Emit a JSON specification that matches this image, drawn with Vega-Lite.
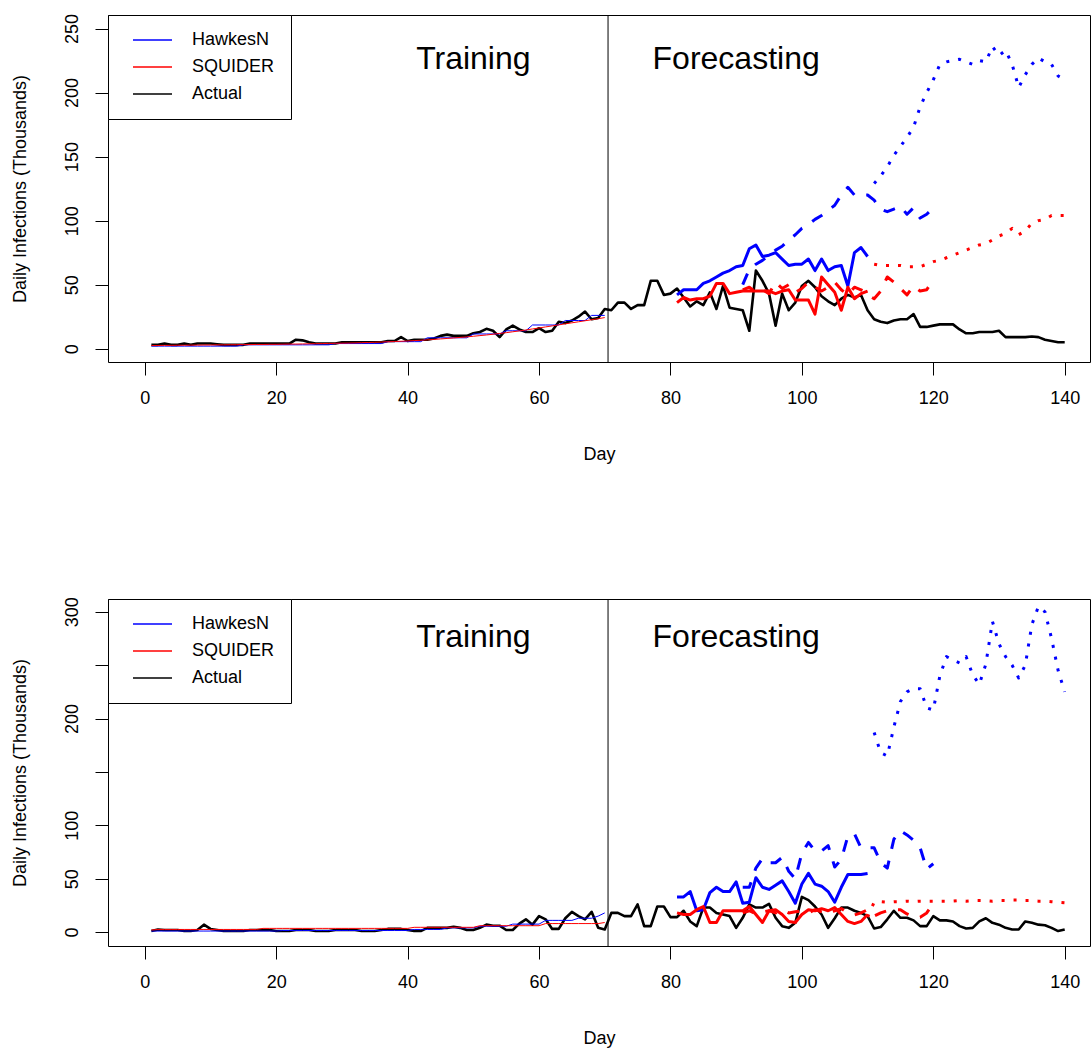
{
"$schema": "https://vega.github.io/schema/vega-lite/v6.json",
"padding": {"left": 10, "top": 13, "right": 0, "bottom": 0},
"spacing": 132,
"resolve": {"scale": {"color": "independent"}, "legend": {"color": "independent"}},
"config": {
  "font": "Liberation Sans",
  "view": {"stroke": "#000000", "strokeWidth": 1},
  "axis": {"domain": false, "grid": false, "tickColor": "#000000", "tickSize": 13, "tickWidth": 1, "labelFontSize": 18, "labelColor": "#000000", "labelFont": "Liberation Sans", "titleFont": "Liberation Sans", "titleFontSize": 18, "titleFontWeight": "normal", "titleColor": "#000000", "labelPadding": 14, "labelFlush": false, "labelOverlap": false},
  "axisX": {"titlePadding": 38},
  "axisY": {"labelAngle": 270, "labelAlign": "center", "labelBaseline": "bottom", "titlePadding": 34},
  "legend": {"orient": "top-left", "offset": 0, "padding": 16, "strokeColor": "#000000", "fillColor": "#ffffff", "symbolType": "M0,0H6", "symbolSize": 169, "symbolStrokeWidth": 1.5, "labelFontSize": 18, "labelFont": "Liberation Sans", "labelColor": "#000000", "labelOffset": 50, "rowPadding": 9, "cornerRadius": 0},
  "line": {"strokeJoin": "round"}
},
"datasets": {
"T_act": [{"day":1,"value":3},{"day":2,"value":3},{"day":3,"value":4},{"day":4,"value":3},{"day":5,"value":3},{"day":6,"value":4},{"day":7,"value":3},{"day":8,"value":4},{"day":9,"value":4},{"day":10,"value":4},{"day":11,"value":3.5},{"day":12,"value":3},{"day":13,"value":3},{"day":14,"value":3},{"day":15,"value":3},{"day":16,"value":4},{"day":17,"value":4},{"day":18,"value":4},{"day":19,"value":4},{"day":20,"value":4},{"day":21,"value":4},{"day":22,"value":4},{"day":23,"value":7},{"day":24,"value":6.5},{"day":25,"value":5},{"day":26,"value":4},{"day":27,"value":4},{"day":28,"value":4},{"day":29,"value":4},{"day":30,"value":5},{"day":31,"value":5},{"day":32,"value":5},{"day":33,"value":5},{"day":34,"value":5},{"day":35,"value":5},{"day":36,"value":5},{"day":37,"value":6},{"day":38,"value":6},{"day":39,"value":9},{"day":40,"value":6},{"day":41,"value":7},{"day":42,"value":7},{"day":43,"value":7},{"day":44,"value":8},{"day":45,"value":10},{"day":46,"value":11},{"day":47,"value":10},{"day":48,"value":10},{"day":49,"value":10},{"day":50,"value":12},{"day":51,"value":13},{"day":52,"value":15.5},{"day":53,"value":14},{"day":54,"value":9},{"day":55,"value":15},{"day":56,"value":18},{"day":57,"value":15},{"day":58,"value":13},{"day":59,"value":13},{"day":60,"value":16},{"day":61,"value":13},{"day":62,"value":14},{"day":63,"value":21},{"day":64,"value":20},{"day":65,"value":22},{"day":66,"value":25},{"day":67,"value":29},{"day":68,"value":23},{"day":69,"value":24},{"day":70,"value":31},{"day":71,"value":30},{"day":72,"value":36},{"day":73,"value":36},{"day":74,"value":31},{"day":75,"value":34},{"day":76,"value":34},{"day":77,"value":53},{"day":78,"value":53},{"day":79,"value":42},{"day":80,"value":43},{"day":81,"value":47},{"day":82,"value":40},{"day":83,"value":33},{"day":84,"value":37},{"day":85,"value":34},{"day":86,"value":44},{"day":87,"value":31},{"day":88,"value":49},{"day":89,"value":32},{"day":90,"value":31},{"day":91,"value":30},{"day":92,"value":14},{"day":93,"value":61},{"day":94,"value":53},{"day":95,"value":43},{"day":96,"value":18},{"day":97,"value":43},{"day":98,"value":30},{"day":99,"value":36},{"day":100,"value":49},{"day":101,"value":53},{"day":102,"value":48},{"day":103,"value":41},{"day":104,"value":37},{"day":105,"value":34},{"day":106,"value":39},{"day":107,"value":42},{"day":108,"value":40},{"day":109,"value":42},{"day":110,"value":30},{"day":111,"value":23},{"day":112,"value":21},{"day":113,"value":20},{"day":114,"value":22},{"day":115,"value":23},{"day":116,"value":23},{"day":117,"value":27},{"day":118,"value":17},{"day":119,"value":17},{"day":120,"value":18},{"day":121,"value":19},{"day":122,"value":19},{"day":123,"value":19},{"day":124,"value":15},{"day":125,"value":12},{"day":126,"value":12},{"day":127,"value":13},{"day":128,"value":13},{"day":129,"value":13},{"day":130,"value":14},{"day":131,"value":9},{"day":132,"value":9},{"day":133,"value":9},{"day":134,"value":9},{"day":135,"value":9.5},{"day":136,"value":9},{"day":137,"value":7},{"day":138,"value":6},{"day":139,"value":5},{"day":140,"value":5}],
"T_hfit": [{"day":1,"value":2},{"day":2,"value":2},{"day":3,"value":2},{"day":4,"value":2},{"day":5,"value":2},{"day":6,"value":2},{"day":7,"value":2},{"day":8,"value":2},{"day":9,"value":2},{"day":10,"value":2},{"day":11,"value":2},{"day":12,"value":2},{"day":13,"value":2},{"day":14,"value":2},{"day":15,"value":3},{"day":16,"value":3},{"day":17,"value":3},{"day":18,"value":3},{"day":19,"value":3},{"day":20,"value":3},{"day":21,"value":3},{"day":22,"value":3},{"day":23,"value":3},{"day":24,"value":3},{"day":25,"value":3},{"day":26,"value":3},{"day":27,"value":3},{"day":28,"value":3},{"day":29,"value":4},{"day":30,"value":4},{"day":31,"value":4},{"day":32,"value":4},{"day":33,"value":4},{"day":34,"value":4},{"day":35,"value":4},{"day":36,"value":4},{"day":37,"value":5.5},{"day":38,"value":5.5},{"day":39,"value":5.5},{"day":40,"value":5.5},{"day":41,"value":5.5},{"day":42,"value":5.5},{"day":43,"value":8.5},{"day":44,"value":8.5},{"day":45,"value":8.5},{"day":46,"value":8.5},{"day":47,"value":8.5},{"day":48,"value":8.5},{"day":49,"value":8.5},{"day":50,"value":11.5},{"day":51,"value":11.5},{"day":52,"value":11.5},{"day":53,"value":11.5},{"day":54,"value":11.5},{"day":55,"value":14},{"day":56,"value":14},{"day":57,"value":14},{"day":58,"value":14},{"day":59,"value":18.5},{"day":60,"value":18.5},{"day":61,"value":18.5},{"day":62,"value":18.5},{"day":63,"value":18.5},{"day":64,"value":22},{"day":65,"value":22},{"day":66,"value":22},{"day":67,"value":22},{"day":68,"value":26},{"day":69,"value":26},{"day":70,"value":26}],
"T_sfit": [{"day":1,"value":2.5},{"day":2,"value":2.5},{"day":3,"value":2.6},{"day":4,"value":2.6},{"day":5,"value":2.7},{"day":6,"value":2.7},{"day":7,"value":2.8},{"day":8,"value":2.8},{"day":9,"value":2.9},{"day":10,"value":2.9},{"day":11,"value":3},{"day":12,"value":3},{"day":13,"value":3.1},{"day":14,"value":3.1},{"day":15,"value":3.2},{"day":16,"value":3.2},{"day":17,"value":3.3},{"day":18,"value":3.3},{"day":19,"value":3.4},{"day":20,"value":3.4},{"day":21,"value":3.5},{"day":22,"value":3.6},{"day":23,"value":3.6},{"day":24,"value":3.7},{"day":25,"value":3.8},{"day":26,"value":3.9},{"day":27,"value":4},{"day":28,"value":4.1},{"day":29,"value":4.2},{"day":30,"value":4.3},{"day":31,"value":4.4},{"day":32,"value":4.5},{"day":33,"value":4.7},{"day":34,"value":4.8},{"day":35,"value":5},{"day":36,"value":5.2},{"day":37,"value":5.4},{"day":38,"value":5.6},{"day":39,"value":5.8},{"day":40,"value":6},{"day":41,"value":6.3},{"day":42,"value":6.6},{"day":43,"value":6.9},{"day":44,"value":7.2},{"day":45,"value":7.6},{"day":46,"value":8},{"day":47,"value":8.4},{"day":48,"value":8.8},{"day":49,"value":9.2},{"day":50,"value":9.7},{"day":51,"value":10.2},{"day":52,"value":10.7},{"day":53,"value":11.3},{"day":54,"value":11.9},{"day":55,"value":12.5},{"day":56,"value":13.2},{"day":57,"value":13.9},{"day":58,"value":14.6},{"day":59,"value":15.4},{"day":60,"value":16.2},{"day":61,"value":17},{"day":62,"value":17.8},{"day":63,"value":18.6},{"day":64,"value":19.4},{"day":65,"value":20.2},{"day":66,"value":21},{"day":67,"value":21.8},{"day":68,"value":22.6},{"day":69,"value":23.4},{"day":70,"value":24.3}],
"T_hsol": [{"day":81,"value":42},{"day":82,"value":46},{"day":83,"value":46},{"day":84,"value":46},{"day":85,"value":51},{"day":86,"value":53},{"day":87,"value":56},{"day":88,"value":59},{"day":89,"value":61},{"day":90,"value":64},{"day":91,"value":65},{"day":92,"value":78},{"day":93,"value":81},{"day":94,"value":72},{"day":95,"value":73},{"day":96,"value":75},{"day":97,"value":70},{"day":98,"value":65},{"day":99,"value":66},{"day":100,"value":66},{"day":101,"value":70},{"day":102,"value":61},{"day":103,"value":70},{"day":104,"value":61},{"day":105,"value":64},{"day":106,"value":65},{"day":107,"value":49},{"day":108,"value":75},{"day":109,"value":79},{"day":110,"value":72}],
"T_hdash": [{"day":91,"value":50},{"day":92,"value":62},{"day":93,"value":66},{"day":94,"value":69},{"day":95,"value":73},{"day":96,"value":77},{"day":97,"value":80},{"day":98,"value":85},{"day":99,"value":89},{"day":100,"value":94},{"day":101,"value":97},{"day":102,"value":101},{"day":103,"value":104},{"day":104,"value":108},{"day":105,"value":112},{"day":106,"value":120},{"day":107,"value":126},{"day":108,"value":120},{"day":109,"value":120},{"day":110,"value":120},{"day":111,"value":116},{"day":112,"value":109},{"day":113,"value":107},{"day":114,"value":109},{"day":115,"value":111},{"day":116,"value":105},{"day":117,"value":110},{"day":118,"value":102},{"day":119,"value":105},{"day":120,"value":110}],
"T_hdot": [{"day":111,"value":129},{"day":112,"value":135},{"day":113,"value":142},{"day":114,"value":151},{"day":115,"value":158},{"day":116,"value":165},{"day":117,"value":173},{"day":118,"value":189},{"day":119,"value":200},{"day":120,"value":210},{"day":121,"value":222},{"day":122,"value":224},{"day":123,"value":225},{"day":124,"value":226},{"day":125,"value":224},{"day":126,"value":222},{"day":127,"value":225},{"day":128,"value":224},{"day":129,"value":236},{"day":130,"value":229},{"day":131,"value":233},{"day":132,"value":222},{"day":133,"value":204},{"day":134,"value":214},{"day":135,"value":222},{"day":136,"value":227},{"day":137,"value":224},{"day":138,"value":222},{"day":139,"value":213},{"day":140,"value":210}],
"T_ssol": [{"day":81,"value":36},{"day":82,"value":40},{"day":83,"value":38},{"day":84,"value":39},{"day":85,"value":39},{"day":86,"value":41},{"day":87,"value":51},{"day":88,"value":51},{"day":89,"value":43},{"day":90,"value":44},{"day":91,"value":45},{"day":92,"value":45},{"day":93,"value":45},{"day":94,"value":45},{"day":95,"value":45},{"day":96,"value":43},{"day":97,"value":45},{"day":98,"value":46},{"day":99,"value":38},{"day":100,"value":38},{"day":101,"value":38},{"day":102,"value":27},{"day":103,"value":56},{"day":104,"value":50},{"day":105,"value":44},{"day":106,"value":30},{"day":107,"value":48},{"day":108,"value":39},{"day":109,"value":43},{"day":110,"value":45}],
"T_sdash": [{"day":91,"value":46},{"day":92,"value":48},{"day":93,"value":44},{"day":94,"value":46},{"day":95,"value":43},{"day":96,"value":52},{"day":97,"value":47},{"day":98,"value":50},{"day":99,"value":44},{"day":100,"value":47},{"day":101,"value":52},{"day":102,"value":48},{"day":103,"value":45},{"day":104,"value":48},{"day":105,"value":52},{"day":106,"value":46},{"day":107,"value":42},{"day":108,"value":48},{"day":109,"value":46},{"day":110,"value":42},{"day":111,"value":39},{"day":112,"value":45},{"day":113,"value":56},{"day":114,"value":52},{"day":115,"value":47},{"day":116,"value":42},{"day":117,"value":49},{"day":118,"value":45},{"day":119,"value":46},{"day":120,"value":54}],
"T_sdot": [{"day":111,"value":66},{"day":112,"value":65},{"day":113,"value":65},{"day":114,"value":65},{"day":115,"value":65},{"day":116,"value":64},{"day":117,"value":64},{"day":118,"value":64},{"day":119,"value":66},{"day":120,"value":68},{"day":121,"value":69},{"day":122,"value":71},{"day":123,"value":73},{"day":124,"value":75},{"day":125,"value":77},{"day":126,"value":79},{"day":127,"value":81},{"day":128,"value":82},{"day":129,"value":85},{"day":130,"value":88},{"day":131,"value":90},{"day":132,"value":94},{"day":133,"value":89},{"day":134,"value":92},{"day":135,"value":98},{"day":136,"value":100},{"day":137,"value":101},{"day":138,"value":104},{"day":139,"value":104},{"day":140,"value":104}],
"B_act": [{"day":1,"value":1},{"day":2,"value":2.5},{"day":3,"value":2},{"day":4,"value":2},{"day":5,"value":2},{"day":6,"value":1},{"day":7,"value":1},{"day":8,"value":2},{"day":9,"value":7},{"day":10,"value":3},{"day":11,"value":2},{"day":12,"value":1},{"day":13,"value":1},{"day":14,"value":1},{"day":15,"value":1},{"day":16,"value":2},{"day":17,"value":2},{"day":18,"value":2},{"day":19,"value":2},{"day":20,"value":1},{"day":21,"value":1},{"day":22,"value":1},{"day":23,"value":2},{"day":24,"value":2},{"day":25,"value":2},{"day":26,"value":1},{"day":27,"value":1},{"day":28,"value":1},{"day":29,"value":2},{"day":30,"value":2},{"day":31,"value":2},{"day":32,"value":2},{"day":33,"value":1},{"day":34,"value":1},{"day":35,"value":1},{"day":36,"value":2},{"day":37,"value":3},{"day":38,"value":3},{"day":39,"value":3},{"day":40,"value":2},{"day":41,"value":1},{"day":42,"value":1},{"day":43,"value":4},{"day":44,"value":4},{"day":45,"value":4},{"day":46,"value":4},{"day":47,"value":5},{"day":48,"value":4},{"day":49,"value":2},{"day":50,"value":2},{"day":51,"value":4},{"day":52,"value":7},{"day":53,"value":6},{"day":54,"value":6},{"day":55,"value":2},{"day":56,"value":2},{"day":57,"value":8},{"day":58,"value":12},{"day":59,"value":7},{"day":60,"value":15},{"day":61,"value":12},{"day":62,"value":3},{"day":63,"value":3},{"day":64,"value":13},{"day":65,"value":19},{"day":66,"value":15},{"day":67,"value":12},{"day":68,"value":19},{"day":69,"value":4},{"day":70,"value":2.5},{"day":71,"value":18},{"day":72,"value":18},{"day":73,"value":15},{"day":74,"value":15},{"day":75,"value":26},{"day":76,"value":5.6},{"day":77,"value":5.6},{"day":78,"value":24},{"day":79,"value":24},{"day":80,"value":14},{"day":81,"value":14},{"day":82,"value":20},{"day":83,"value":10},{"day":84,"value":5.6},{"day":85,"value":23},{"day":86,"value":23},{"day":87,"value":18},{"day":88,"value":16.5},{"day":89,"value":15},{"day":90,"value":4},{"day":91,"value":13.4},{"day":92,"value":26},{"day":93,"value":23},{"day":94,"value":23},{"day":95,"value":26.5},{"day":96,"value":13.4},{"day":97,"value":5.6},{"day":98,"value":4},{"day":99,"value":8.7},{"day":100,"value":33},{"day":101,"value":30},{"day":102,"value":24},{"day":103,"value":16.5},{"day":104,"value":4},{"day":105,"value":13},{"day":106,"value":23},{"day":107,"value":23},{"day":108,"value":20},{"day":109,"value":18},{"day":110,"value":15},{"day":111,"value":3.4},{"day":112,"value":4.7},{"day":113,"value":12},{"day":114,"value":20},{"day":115,"value":13.4},{"day":116,"value":13.4},{"day":117,"value":11},{"day":118,"value":5.6},{"day":119,"value":5.6},{"day":120,"value":15},{"day":121,"value":11},{"day":122,"value":11},{"day":123,"value":10},{"day":124,"value":5.6},{"day":125,"value":3.4},{"day":126,"value":4},{"day":127,"value":10},{"day":128,"value":13},{"day":129,"value":8.7},{"day":130,"value":7},{"day":131,"value":4},{"day":132,"value":2.5},{"day":133,"value":2.5},{"day":134,"value":10},{"day":135,"value":8.7},{"day":136,"value":7},{"day":137,"value":6.5},{"day":138,"value":4},{"day":139,"value":1},{"day":140,"value":2.5}],
"B_hfit": [{"day":1,"value":1},{"day":2,"value":1},{"day":3,"value":1},{"day":4,"value":1},{"day":5,"value":1},{"day":6,"value":1},{"day":7,"value":1},{"day":8,"value":1},{"day":9,"value":1},{"day":10,"value":1},{"day":11,"value":1},{"day":12,"value":1},{"day":13,"value":1},{"day":14,"value":1},{"day":15,"value":1},{"day":16,"value":1},{"day":17,"value":1},{"day":18,"value":1},{"day":19,"value":1},{"day":20,"value":1},{"day":21,"value":1.5},{"day":22,"value":1.5},{"day":23,"value":1.5},{"day":24,"value":1.5},{"day":25,"value":1.5},{"day":26,"value":1.5},{"day":27,"value":1.5},{"day":28,"value":1.5},{"day":29,"value":1.5},{"day":30,"value":1.5},{"day":31,"value":1.5},{"day":32,"value":1.5},{"day":33,"value":1.5},{"day":34,"value":1.5},{"day":35,"value":1.5},{"day":36,"value":1.5},{"day":37,"value":1.5},{"day":38,"value":1.5},{"day":39,"value":1.5},{"day":40,"value":1.5},{"day":41,"value":2.5},{"day":42,"value":2.5},{"day":43,"value":2.5},{"day":44,"value":2.5},{"day":45,"value":2.5},{"day":46,"value":4},{"day":47,"value":4},{"day":48,"value":4},{"day":49,"value":4},{"day":50,"value":4},{"day":51,"value":5.5},{"day":52,"value":5.5},{"day":53,"value":5.5},{"day":54,"value":5.5},{"day":55,"value":5.5},{"day":56,"value":7.5},{"day":57,"value":7.5},{"day":58,"value":7.5},{"day":59,"value":7.5},{"day":60,"value":7.5},{"day":61,"value":11},{"day":62,"value":11},{"day":63,"value":11},{"day":64,"value":11},{"day":65,"value":11},{"day":66,"value":13},{"day":67,"value":13},{"day":68,"value":13},{"day":69,"value":15},{"day":70,"value":18}],
"B_sfit": [{"day":1,"value":2},{"day":2,"value":2.5},{"day":3,"value":2.5},{"day":4,"value":2.5},{"day":5,"value":2.5},{"day":6,"value":2.5},{"day":7,"value":2.5},{"day":8,"value":2.5},{"day":9,"value":2.5},{"day":10,"value":2.5},{"day":11,"value":2.5},{"day":12,"value":2.5},{"day":13,"value":2.5},{"day":14,"value":2.5},{"day":15,"value":2.5},{"day":16,"value":2.5},{"day":17,"value":2.5},{"day":18,"value":3.5},{"day":19,"value":3.5},{"day":20,"value":3.5},{"day":21,"value":3.5},{"day":22,"value":3.5},{"day":23,"value":3.5},{"day":24,"value":3.5},{"day":25,"value":3.5},{"day":26,"value":3.5},{"day":27,"value":3.5},{"day":28,"value":3.5},{"day":29,"value":3.5},{"day":30,"value":3.5},{"day":31,"value":3.5},{"day":32,"value":3.5},{"day":33,"value":3.5},{"day":34,"value":3.5},{"day":35,"value":3.5},{"day":36,"value":3.5},{"day":37,"value":3.5},{"day":38,"value":3.5},{"day":39,"value":3.5},{"day":40,"value":3.5},{"day":41,"value":4.5},{"day":42,"value":4.5},{"day":43,"value":4.5},{"day":44,"value":4.5},{"day":45,"value":4.5},{"day":46,"value":4.5},{"day":47,"value":4.5},{"day":48,"value":4.5},{"day":49,"value":4.5},{"day":50,"value":4.5},{"day":51,"value":6},{"day":52,"value":6},{"day":53,"value":6},{"day":54,"value":6},{"day":55,"value":6},{"day":56,"value":6},{"day":57,"value":6},{"day":58,"value":6},{"day":59,"value":6},{"day":60,"value":6},{"day":61,"value":8},{"day":62,"value":8},{"day":63,"value":8},{"day":64,"value":8},{"day":65,"value":8},{"day":66,"value":8},{"day":67,"value":8},{"day":68,"value":8},{"day":69,"value":8},{"day":70,"value":9}],
"B_hsol": [{"day":81,"value":33},{"day":82,"value":33},{"day":83,"value":38},{"day":84,"value":20},{"day":85,"value":21},{"day":86,"value":37},{"day":87,"value":42},{"day":88,"value":38},{"day":89,"value":38},{"day":90,"value":47},{"day":91,"value":27},{"day":92,"value":28},{"day":93,"value":51},{"day":94,"value":42},{"day":95,"value":40},{"day":96,"value":44},{"day":97,"value":48},{"day":98,"value":38},{"day":99,"value":27},{"day":100,"value":45},{"day":101,"value":55},{"day":102,"value":45},{"day":103,"value":43},{"day":104,"value":38},{"day":105,"value":28},{"day":106,"value":42},{"day":107,"value":54},{"day":108,"value":54},{"day":109,"value":54},{"day":110,"value":55}],
"B_hdash": [{"day":91,"value":42},{"day":92,"value":42},{"day":93,"value":60},{"day":94,"value":69},{"day":95,"value":65},{"day":96,"value":65},{"day":97,"value":70},{"day":98,"value":57},{"day":99,"value":50},{"day":100,"value":74},{"day":101,"value":84},{"day":102,"value":76},{"day":103,"value":76},{"day":104,"value":81},{"day":105,"value":61},{"day":106,"value":68},{"day":107,"value":90},{"day":108,"value":92},{"day":109,"value":79},{"day":110,"value":79},{"day":111,"value":79},{"day":112,"value":65},{"day":113,"value":60},{"day":114,"value":87},{"day":115,"value":95},{"day":116,"value":91},{"day":117,"value":86},{"day":118,"value":79},{"day":119,"value":59},{"day":120,"value":64}],
"B_hdot": [{"day":111,"value":187},{"day":112,"value":168},{"day":113,"value":165},{"day":114,"value":192},{"day":115,"value":216},{"day":116,"value":225},{"day":117,"value":228},{"day":118,"value":228},{"day":119,"value":210},{"day":120,"value":208},{"day":121,"value":240},{"day":122,"value":258},{"day":123,"value":255},{"day":124,"value":252},{"day":125,"value":258},{"day":126,"value":241},{"day":127,"value":232},{"day":128,"value":251},{"day":129,"value":291},{"day":130,"value":270},{"day":131,"value":258},{"day":132,"value":250},{"day":133,"value":238},{"day":134,"value":250},{"day":135,"value":288},{"day":136,"value":305},{"day":137,"value":300},{"day":138,"value":275},{"day":139,"value":245},{"day":140,"value":225}],
"B_ssol": [{"day":81,"value":18},{"day":82,"value":16.5},{"day":83,"value":16.5},{"day":84,"value":21},{"day":85,"value":24},{"day":86,"value":9},{"day":87,"value":9},{"day":88,"value":20},{"day":89,"value":20},{"day":90,"value":20},{"day":91,"value":20},{"day":92,"value":24},{"day":93,"value":16.5},{"day":94,"value":9},{"day":95,"value":20},{"day":96,"value":21},{"day":97,"value":16.5},{"day":98,"value":10},{"day":99,"value":9},{"day":100,"value":16.5},{"day":101,"value":21},{"day":102,"value":20},{"day":103,"value":22},{"day":104,"value":20},{"day":105,"value":23},{"day":106,"value":16.5},{"day":107,"value":10},{"day":108,"value":8},{"day":109,"value":10},{"day":110,"value":16.5}],
"B_sdash": [{"day":91,"value":18},{"day":92,"value":20},{"day":93,"value":17},{"day":94,"value":19},{"day":95,"value":20},{"day":96,"value":18},{"day":97,"value":21},{"day":98,"value":18},{"day":99,"value":19},{"day":100,"value":20},{"day":101,"value":18},{"day":102,"value":21},{"day":103,"value":19},{"day":104,"value":17},{"day":105,"value":20},{"day":106,"value":22},{"day":107,"value":18},{"day":108,"value":16},{"day":109,"value":18},{"day":110,"value":21},{"day":111,"value":15},{"day":112,"value":18},{"day":113,"value":20},{"day":114,"value":21},{"day":115,"value":21},{"day":116,"value":17},{"day":117,"value":14},{"day":118,"value":14},{"day":119,"value":18},{"day":120,"value":27}],
"B_sdot": [{"day":110,"value":14},{"day":111,"value":28},{"day":112,"value":28.5},{"day":113,"value":28},{"day":114,"value":28.5},{"day":115,"value":28.5},{"day":116,"value":29},{"day":117,"value":28.5},{"day":118,"value":29},{"day":119,"value":29},{"day":120,"value":29},{"day":121,"value":29},{"day":122,"value":29},{"day":123,"value":29},{"day":124,"value":29.5},{"day":125,"value":29},{"day":126,"value":29.5},{"day":127,"value":29.5},{"day":128,"value":29.5},{"day":129,"value":29},{"day":130,"value":29.5},{"day":131,"value":29.5},{"day":132,"value":30},{"day":133,"value":30},{"day":134,"value":29.5},{"day":135,"value":29.5},{"day":136,"value":29},{"day":137,"value":29},{"day":138,"value":28.5},{"day":139,"value":28},{"day":140,"value":27.5}]
},
"vconcat": [
{
  "width": 982, "height": 347,
  "layer": [
    {"data": {"name": "T_act"}, "mark": {"type": "line", "strokeWidth": 2.6}, "encoding": {"x": {"field": "day", "type": "quantitative", "title": "Day", "scale": {"domain": [-5.6, 143.85], "nice": false, "zero": false}, "axis": {"values": [0,20,40,60,80,100,120,140]}}, "y": {"field": "value", "type": "quantitative", "title": "Daily Infections (Thousands)", "scale": {"domain": [-10.4, 260.6], "nice": false, "zero": false}, "axis": {"values": [0,50,100,150,200,250]}}, "color": {"datum": "Actual", "title": null, "scale": {"domain": ["HawkesN","SQUIDER","Actual"], "range": ["#0000ff","#ff0000","#000000"]}}}},
    {"data": {"name": "T_hfit"}, "mark": {"type": "line", "strokeWidth": 1}, "encoding": {"x": {"field": "day", "type": "quantitative", "title": "Day"}, "y": {"field": "value", "type": "quantitative", "title": "Daily Infections (Thousands)"}, "color": {"datum": "HawkesN", "title": null}}},
    {"data": {"name": "T_sfit"}, "mark": {"type": "line", "strokeWidth": 1}, "encoding": {"x": {"field": "day", "type": "quantitative", "title": "Day"}, "y": {"field": "value", "type": "quantitative", "title": "Daily Infections (Thousands)"}, "color": {"datum": "SQUIDER", "title": null}}},
    {"data": {"name": "T_hsol"}, "mark": {"type": "line", "strokeWidth": 3}, "encoding": {"x": {"field": "day", "type": "quantitative", "title": "Day"}, "y": {"field": "value", "type": "quantitative", "title": "Daily Infections (Thousands)"}, "color": {"datum": "HawkesN", "title": null}}},
    {"data": {"name": "T_ssol"}, "mark": {"type": "line", "strokeWidth": 3}, "encoding": {"x": {"field": "day", "type": "quantitative", "title": "Day"}, "y": {"field": "value", "type": "quantitative", "title": "Daily Infections (Thousands)"}, "color": {"datum": "SQUIDER", "title": null}}},
    {"data": {"name": "T_hdash"}, "mark": {"type": "line", "strokeWidth": 3, "strokeDash": [12,12]}, "encoding": {"x": {"field": "day", "type": "quantitative", "title": "Day"}, "y": {"field": "value", "type": "quantitative", "title": "Daily Infections (Thousands)"}, "color": {"datum": "HawkesN", "title": null}}},
    {"data": {"name": "T_sdash"}, "mark": {"type": "line", "strokeWidth": 3, "strokeDash": [12,12]}, "encoding": {"x": {"field": "day", "type": "quantitative", "title": "Day"}, "y": {"field": "value", "type": "quantitative", "title": "Daily Infections (Thousands)"}, "color": {"datum": "SQUIDER", "title": null}}},
    {"data": {"name": "T_hdot"}, "mark": {"type": "line", "strokeWidth": 3, "strokeDash": [3,9]}, "encoding": {"x": {"field": "day", "type": "quantitative", "title": "Day"}, "y": {"field": "value", "type": "quantitative", "title": "Daily Infections (Thousands)"}, "color": {"datum": "HawkesN", "title": null}}},
    {"data": {"name": "T_sdot"}, "mark": {"type": "line", "strokeWidth": 3, "strokeDash": [3,9]}, "encoding": {"x": {"field": "day", "type": "quantitative", "title": "Day"}, "y": {"field": "value", "type": "quantitative", "title": "Daily Infections (Thousands)"}, "color": {"datum": "SQUIDER", "title": null}}},
    {"data": {"values": [{}]}, "mark": {"type": "rule", "color": "#000000", "strokeWidth": 1}, "encoding": {"x": {"datum": 70.5, "type": "quantitative", "title": "Day"}, "y": {"datum": -10.4, "type": "quantitative", "title": "Daily Infections (Thousands)"}, "y2": {"datum": 260.6}}},
    {"data": {"values": [{}]}, "mark": {"type": "text", "fontSize": 32, "font": "Liberation Sans", "color": "#000000", "align": "center", "baseline": "middle"}, "encoding": {"x": {"datum": 50, "type": "quantitative", "title": "Day"}, "y": {"datum": 226, "type": "quantitative", "title": "Daily Infections (Thousands)"}, "text": {"value": "Training"}}},
    {"data": {"values": [{}]}, "mark": {"type": "text", "fontSize": 32, "font": "Liberation Sans", "color": "#000000", "align": "center", "baseline": "middle"}, "encoding": {"x": {"datum": 90, "type": "quantitative", "title": "Day"}, "y": {"datum": 226, "type": "quantitative", "title": "Daily Infections (Thousands)"}, "text": {"value": "Forecasting"}}}
  ]
},
{
  "width": 982, "height": 347,
  "layer": [
    {"data": {"name": "B_act"}, "mark": {"type": "line", "strokeWidth": 2.6}, "encoding": {"x": {"field": "day", "type": "quantitative", "title": "Day", "scale": {"domain": [-5.6, 143.85], "nice": false, "zero": false}, "axis": {"values": [0,20,40,60,80,100,120,140]}}, "y": {"field": "value", "type": "quantitative", "title": "Daily Infections (Thousands)", "scale": {"domain": [-13, 312], "nice": false, "zero": false}, "axis": {"values": [0,50,100,150,200,250,300], "labelExpr": "datum.value == 150 || datum.value == 250 ? '' : datum.label"}}, "color": {"datum": "Actual", "title": null, "scale": {"domain": ["HawkesN","SQUIDER","Actual"], "range": ["#0000ff","#ff0000","#000000"]}}}},
    {"data": {"name": "B_hfit"}, "mark": {"type": "line", "strokeWidth": 1}, "encoding": {"x": {"field": "day", "type": "quantitative", "title": "Day"}, "y": {"field": "value", "type": "quantitative", "title": "Daily Infections (Thousands)"}, "color": {"datum": "HawkesN", "title": null}}},
    {"data": {"name": "B_sfit"}, "mark": {"type": "line", "strokeWidth": 1}, "encoding": {"x": {"field": "day", "type": "quantitative", "title": "Day"}, "y": {"field": "value", "type": "quantitative", "title": "Daily Infections (Thousands)"}, "color": {"datum": "SQUIDER", "title": null}}},
    {"data": {"name": "B_hsol"}, "mark": {"type": "line", "strokeWidth": 3}, "encoding": {"x": {"field": "day", "type": "quantitative", "title": "Day"}, "y": {"field": "value", "type": "quantitative", "title": "Daily Infections (Thousands)"}, "color": {"datum": "HawkesN", "title": null}}},
    {"data": {"name": "B_ssol"}, "mark": {"type": "line", "strokeWidth": 3}, "encoding": {"x": {"field": "day", "type": "quantitative", "title": "Day"}, "y": {"field": "value", "type": "quantitative", "title": "Daily Infections (Thousands)"}, "color": {"datum": "SQUIDER", "title": null}}},
    {"data": {"name": "B_hdash"}, "mark": {"type": "line", "strokeWidth": 3, "strokeDash": [12,12]}, "encoding": {"x": {"field": "day", "type": "quantitative", "title": "Day"}, "y": {"field": "value", "type": "quantitative", "title": "Daily Infections (Thousands)"}, "color": {"datum": "HawkesN", "title": null}}},
    {"data": {"name": "B_sdash"}, "mark": {"type": "line", "strokeWidth": 3, "strokeDash": [12,12]}, "encoding": {"x": {"field": "day", "type": "quantitative", "title": "Day"}, "y": {"field": "value", "type": "quantitative", "title": "Daily Infections (Thousands)"}, "color": {"datum": "SQUIDER", "title": null}}},
    {"data": {"name": "B_hdot"}, "mark": {"type": "line", "strokeWidth": 3, "strokeDash": [3,9]}, "encoding": {"x": {"field": "day", "type": "quantitative", "title": "Day"}, "y": {"field": "value", "type": "quantitative", "title": "Daily Infections (Thousands)"}, "color": {"datum": "HawkesN", "title": null}}},
    {"data": {"name": "B_sdot"}, "mark": {"type": "line", "strokeWidth": 3, "strokeDash": [3,9]}, "encoding": {"x": {"field": "day", "type": "quantitative", "title": "Day"}, "y": {"field": "value", "type": "quantitative", "title": "Daily Infections (Thousands)"}, "color": {"datum": "SQUIDER", "title": null}}},
    {"data": {"values": [{}]}, "mark": {"type": "rule", "color": "#000000", "strokeWidth": 1}, "encoding": {"x": {"datum": 70.5, "type": "quantitative", "title": "Day"}, "y": {"datum": -13, "type": "quantitative", "title": "Daily Infections (Thousands)"}, "y2": {"datum": 312}}},
    {"data": {"values": [{}]}, "mark": {"type": "text", "fontSize": 32, "font": "Liberation Sans", "color": "#000000", "align": "center", "baseline": "middle"}, "encoding": {"x": {"datum": 50, "type": "quantitative", "title": "Day"}, "y": {"datum": 276, "type": "quantitative", "title": "Daily Infections (Thousands)"}, "text": {"value": "Training"}}},
    {"data": {"values": [{}]}, "mark": {"type": "text", "fontSize": 32, "font": "Liberation Sans", "color": "#000000", "align": "center", "baseline": "middle"}, "encoding": {"x": {"datum": 90, "type": "quantitative", "title": "Day"}, "y": {"datum": 276, "type": "quantitative", "title": "Daily Infections (Thousands)"}, "text": {"value": "Forecasting"}}}
  ]
}
]
}
